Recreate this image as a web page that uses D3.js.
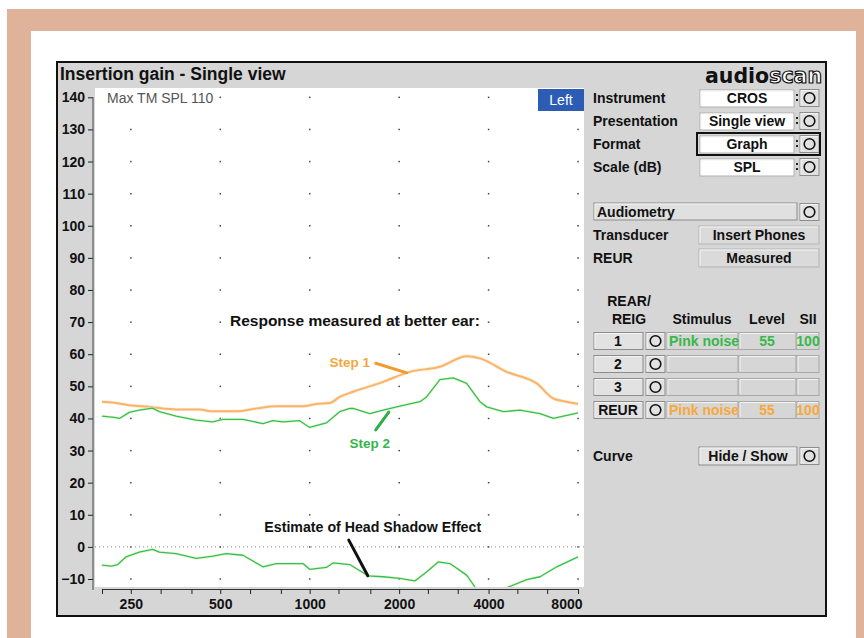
<!DOCTYPE html>
<meta charset="utf-8">
<script src="https://d3js.org/d3.v7.min.js"></script>
<style>
  body { margin: 0; background: #fff; }
  text { font-family: "Liberation Sans", Arial, sans-serif; }
</style>
<body>
<div id="vis"></div>
<script>
  // Axis ticks
  const freqLabels = [250, 500, 1000, 2000, 4000, 8000]
  const freqTicks = [200, 250, 315, 400, 500, 630, 800, 1000, 1250, 1600, 2000, 2500, 3150, 4000, 5000, 6300, 8000]
  const dbTicks = [-10, 0, 10, 20, 30, 40, 50, 60, 70, 80, 90, 100, 110, 120, 130, 140]

  // Step 1 (orange) - response measured at better ear
  const step1Freq = [200, 220, 247, 289, 355, 426, 472, 566, 661, 772, 949, 1053, 1168, 1262, 1400, 1766, 2173, 2743, 3375, 3742, 4604, 5812, 6609, 7334, 8000]
  const step1Level = [45.2, 44.9, 44.1, 43.6, 42.8, 42.8, 42.2, 42.2, 43.1, 43.8, 43.8, 44.5, 44.8, 46.7, 48.3, 51.4, 54.5, 56.1, 59.4, 58.7, 54.5, 50.9, 46.2, 45.2, 44.5]

  // Step 2 (green)
  const step2Freq = [200, 220, 229, 247, 267, 296, 312, 355, 415, 472, 510, 596, 696, 752, 813, 925, 1000, 1138, 1262, 1364, 1400, 1593, 1766, 2011, 2349, 2474, 2743, 3042, 3375, 3742, 3943, 4484, 5105, 5962, 6609, 8000]
  const step2Level = [40.7, 40.3, 40.0, 41.9, 42.6, 43.2, 42.1, 40.7, 39.5, 38.9, 39.7, 39.7, 38.4, 39.3, 38.9, 39.3, 37.2, 38.6, 42.1, 43.1, 43.1, 41.5, 42.6, 43.8, 45.2, 46.7, 52.1, 52.6, 50.9, 45.2, 43.6, 42.1, 42.6, 41.5, 40.0, 41.7]

  // Estimate of head shadow effect (green, lower)
  const shadowFreq = [200, 215, 226, 241, 267, 296, 312, 355, 415, 472, 524, 596, 696, 772, 949, 1000, 1138, 1198, 1364, 1572, 1766, 2011, 2259, 2474, 2707, 2965, 3375, 3600, 3850, 4300, 4663, 5378, 5962, 6786, 8000]
  const shadowLevel = [-5.7, -6.0, -5.5, -3.1, -1.6, -0.8, -1.6, -2.1, -3.6, -2.9, -2.1, -2.6, -6.2, -5.2, -5.2, -7.0, -6.4, -5.0, -5.5, -9.0, -9.3, -9.8, -10.6, -7.8, -4.7, -5.2, -8.8, -12.5, -16, -16, -12.5, -10.2, -9.3, -6.2, -3.1]

  // Right hand panel
  const settingNames = ['Instrument', 'Presentation', 'Format', 'Scale (dB)']
  const settingValues = ['CROS', 'Single view', 'Graph', 'SPL']
  const infoNames = ['Transducer', 'REUR']
  const infoValues = ['Insert Phones', 'Measured']
  const curveNames = ['1', '2', '3', 'REUR']
  const stimulus = ['Pink noise', '', '', 'Pink noise']
  const levels = ['55', '', '', '55']
  const sii = ['100', '', '', '100']

  const tan = '#dfb39a'
  const panelGray = '#d6d6d6'
  const orange = '#f8b46a'
  const green = '#2fbf62'

  let svg = d3.select('#vis').append('svg')
    .attr('width', 864)
    .attr('height', 638)

  // page border
  svg.append('rect').attr('x', 7).attr('y', 9).attr('width', 857).attr('height', 629).attr('fill', tan)
  svg.append('rect').attr('x', 31).attr('y', 31).attr('width', 825).attr('height', 607).attr('fill', '#fff')

  // screen
  svg.append('rect').attr('x', 57).attr('y', 62).attr('width', 769).attr('height', 554)
    .attr('fill', panelGray).attr('stroke', '#111').attr('stroke-width', 2)

  svg.append('text').attr('x', 60).attr('y', 80)
    .style('font-size', '17.5px').style('font-weight', 'bold').attr('fill', '#111')
    .text('Insertion gain - Single view')

  // logo
  let logo = svg.append('text').attr('x', 822).attr('y', 83).attr('text-anchor', 'end')
    .style('font-family', '"DejaVu Sans", sans-serif').style('font-size', '20.5px').style('font-weight', 'bold')
  logo.append('tspan').attr('fill', '#111').text('audio')
  logo.append('tspan').attr('fill', '#fff').attr('stroke', '#111').attr('stroke-width', 1.2).text('scan')

  // plot area
  const plotX0 = 95, plotX1 = 584, plotY0 = 88, plotY1 = 587
  svg.append('rect').attr('x', plotX0).attr('y', plotY0)
    .attr('width', plotX1 - plotX0).attr('height', plotY1 - plotY0).attr('fill', '#fff')

  svg.append('clipPath').attr('id', 'plotClip')
    .append('rect').attr('x', plotX0).attr('y', plotY0)
    .attr('width', plotX1 - plotX0).attr('height', plotY1 - plotY0)

  const x = d3.scaleLog().domain([200, 8000]).range([102, 578])
  const y = d3.scaleLinear().domain([-10, 140]).range([579, 97.3])

  // y axis
  let yAxis = svg.append('g').attr('transform', 'translate(93,0)')
    .call(d3.axisLeft(y).tickValues(dbTicks).tickSize(5).tickSizeOuter(0).tickPadding(3))
  yAxis.select('.domain').remove()
  yAxis.selectAll('line').attr('stroke', '#222')
  yAxis.selectAll('text').style('font-size', '14px').style('font-weight', 'bold').attr('fill', '#111')
  svg.append('line').attr('x1', 93).attr('x2', 93).attr('y1', y(140)).attr('y2', 590).attr('stroke', '#444')

  // x axis
  let xAxis = svg.append('g').attr('transform', 'translate(0,589)')
    .call(d3.axisBottom(x).tickValues(freqTicks).tickSize(5).tickSizeOuter(0).tickPadding(5)
      .tickFormat(d => freqLabels.includes(d) ? d : ''))
  xAxis.select('.domain').attr('stroke', '#333')
  xAxis.selectAll('line').attr('stroke', '#222')
  xAxis.selectAll('text').style('font-size', '14px').style('font-weight', 'bold').attr('fill', '#111')
  xAxis.selectAll('text').filter(d => d === 8000).attr('text-anchor', 'end').attr('x', 4)

  // grid dots
  freqLabels.forEach(function (f) {
    dbTicks.forEach(function (v) {
      svg.append('rect').attr('x', x(f) - 0.7).attr('y', y(v) - 0.7).attr('width', 1.5).attr('height', 1.5).attr('fill', '#444')
    })
  })

  // 0 dB reference
  svg.append('line').attr('x1', plotX0).attr('x2', plotX1).attr('y1', y(0)).attr('y2', y(0))
    .attr('stroke', '#888').attr('stroke-dasharray', '1,3')

  // Max TM SPL text
  svg.append('rect').attr('x', 104).attr('y', 90).attr('width', 113).attr('height', 16).attr('fill', '#fff')
  svg.append('text').attr('x', 107).attr('y', 103)
    .style('font-size', '14px').attr('fill', '#555').text('Max TM SPL 110')

  // Left button
  svg.append('rect').attr('x', 538).attr('y', 89).attr('width', 46).attr('height', 22).attr('fill', '#2d5cb5')
  svg.append('text').attr('x', 561).attr('y', 105).attr('text-anchor', 'middle')
    .style('font-size', '14px').attr('fill', '#fff').text('Left')

  // curves
  let curves = svg.append('g').attr('clip-path', 'url(#plotClip)')

  function drawCurve(freqs, levelsArr, color, width, halo, curveType) {
    const pts = freqs.map((f, i) => [x(f), y(levelsArr[i])])
    const line = d3.line().curve(curveType)
    curves.append('path').attr('d', line(pts)).attr('fill', 'none')
      .attr('stroke', halo).attr('stroke-width', width + 1.6).attr('stroke-opacity', 0.6)
    curves.append('path').attr('d', line(pts)).attr('fill', 'none')
      .attr('stroke', color).attr('stroke-width', width).attr('stroke-linejoin', 'round')
  }

  drawCurve(step1Freq, step1Level, orange, 2, '#fde3c2', d3.curveMonotoneX)
  drawCurve(step2Freq, step2Level, green, 1.3, '#e6f2a8', d3.curveLinear)
  drawCurve(shadowFreq, shadowLevel, green, 1.3, '#e6f2a8', d3.curveLinear)

  // annotations
  function label(f, v, txt, color, size) {
    svg.append('text').attr('x', x(f)).attr('y', y(v)).attr('text-anchor', 'middle').attr('dy', '0.35em')
      .style('font-size', (size || 13.5) + 'px').style('font-weight', 'bold').attr('fill', color).text(txt)
  }
  function pointer(f1, v1, f2, v2, color) {
    svg.append('line').attr('x1', x(f1)).attr('y1', y(v1)).attr('x2', x(f2)).attr('y2', y(v2))
      .attr('stroke', color).attr('stroke-width', 3).attr('stroke-linecap', 'round')
  }

  label(1420, 70.6, 'Response measured at better ear:', '#111', 15.5)
  label(1364, 57.5, 'Step 1', '#f6a640')
  pointer(1669, 57.2, 2123, 54.2, '#f29a2e')
  label(1593, 32.3, 'Step 2', '#35b54a')
  pointer(1669, 36.4, 1846, 42.0, '#2fae45')
  label(1630, 6.1, 'Estimate of Head Shadow Effect', '#111', 14.2)
  pointer(1354, 2.1, 1569, -9.0, '#111')

  // ---------- right panel ----------
  let panel = svg.append('g')

  function box(x0, y0, w, h, fill, stroke) {
    panel.append('rect').attr('x', x0).attr('y', y0).attr('width', w).attr('height', h)
      .attr('fill', fill).attr('stroke', stroke || '#8c8c8c')
    panel.append('path').attr('d', 'M' + (x0 + 1) + ',' + (y0 + h - 1) + 'V' + (y0 + 1) + 'H' + (x0 + w - 1))
      .attr('stroke', '#f4f4f4').attr('fill', 'none')
  }
  function roundButton(x0, cy) {
    box(x0, cy - 8.5, 19, 17, '#e2e2e2')
    panel.append('circle').attr('cx', x0 + 9.5).attr('cy', cy).attr('r', 5.3)
      .attr('fill', 'none').attr('stroke', '#111').attr('stroke-width', 1.6)
  }
  function ptext(px, py, txt, anchor, color) {
    panel.append('text').attr('x', px).attr('y', py).attr('dy', '0.36em').attr('text-anchor', anchor || 'start')
      .style('font-size', '14px').style('font-weight', 'bold').attr('fill', color || '#111').text(txt)
  }

  settingNames.forEach(function (name, i) {
    const cy = 98 + 23 * i
    ptext(593, cy, name)
    box(700, cy - 8, 94, 17, '#fff', '#b0b0b0')
    ptext(747, cy, settingValues[i], 'middle')
    panel.append('rect').attr('x', 796).attr('y', cy - 4).attr('width', 2).attr('height', 2).attr('fill', '#222')
    panel.append('rect').attr('x', 796).attr('y', cy + 1).attr('width', 2).attr('height', 2).attr('fill', '#222')
    roundButton(800, cy)
    if (settingValues[i] === 'Graph') {
      panel.append('rect').attr('x', 697).attr('y', cy - 11).attr('width', 123).attr('height', 22)
        .attr('fill', 'none').attr('stroke', '#111').attr('stroke-width', 2)
    }
  })

  box(594, 203, 203, 17, '#e0e0e0')
  ptext(597, 212, 'Audiometry')
  roundButton(800, 212)

  infoNames.forEach(function (name, i) {
    const cy = 235 + 23 * i
    ptext(593, cy, name)
    box(699, cy - 9, 120, 18, '#dadada', '#b4b4b4')
    ptext(759, cy, infoValues[i], 'middle')
  })

  ptext(629, 301, 'REAR/', 'middle')
  ptext(629, 319, 'REIG', 'middle')
  ptext(702, 319, 'Stimulus', 'middle')
  ptext(767, 319, 'Level', 'middle')
  ptext(808, 319, 'SII', 'middle')

  curveNames.forEach(function (name, i) {
    const cy = 341 + 23 * i
    const color = i === 3 ? '#f7a93a' : '#36b84a'
    box(594, cy - 8.5, 49, 17, '#e2e2e2')
    ptext(618, cy, name, 'middle')
    roundButton(646, cy)
    box(667, cy - 8.5, 71, 17, panelGray, '#a8a8a8')
    box(739, cy - 8.5, 57, 17, panelGray, '#a8a8a8')
    box(797, cy - 8.5, 22, 17, panelGray, '#a8a8a8')
    ptext(669, cy, stimulus[i], 'start', color)
    ptext(767, cy, levels[i], 'middle', color)
    ptext(808, cy, sii[i], 'middle', color)
  })

  ptext(593, 456, 'Curve')
  box(699, 447, 98, 18, '#e2e2e2')
  ptext(748, 456, 'Hide / Show', 'middle')
  roundButton(800, 456)
</script>
</body>
